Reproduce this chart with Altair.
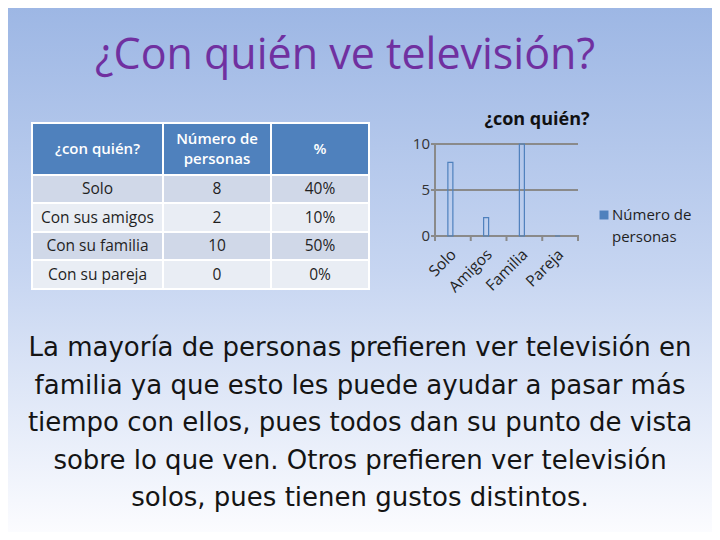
import altair as alt
import pandas as pd

# ---- data ----
row_labels = ["Solo", "Con sus amigos", "Con su familia", "Con su pareja"]
counts = [8, 2, 10, 0]
percents = ["40%", "10%", "50%", "0%"]
header_lines = [["¿con quién?"], ["Número de", "personas"], ["%"]]
chart_cats = ["Solo", "Amigos", "Familia", "Pareja"]
y_ticks = [0, 5, 10]
series_name = ["Número de", "personas"]
paragraph = [
    "La mayoría de personas prefieren ver televisión en",
    "familia ya que esto les puede ayudar a pasar más",
    "tiempo con ellos, pues todos dan su punto de vista",
    "sobre lo que ven. Otros prefieren ver televisión",
    "solos, pues tienen gustos distintos.",
]

# ---- layout ----
W, H = 704, 524
FONT = "Open Sans"
col_edges = [24, 155, 263, 361]
row_edges = [115, 167, 195, 224, 252, 281]
BLUE = "#4f81bd"
GRID = "#8a8a8a"

xcol = alt.Scale(domain=[0, 1, 2, 3], range=col_edges)
yrow = alt.Scale(domain=[0, 1, 2, 3, 4, 5], range=row_edges)

bg = alt.Chart(pd.DataFrame({"a": [0]})).mark_rect(
    color={"gradient": "linear", "x1": 0, "y1": 0, "x2": 0, "y2": 1,
           "stops": [{"offset": 0, "color": "#9cb6e4"},
                     {"offset": 0.5, "color": "#c6d5f1"},
                     {"offset": 1, "color": "#fdfdff"}]}
).encode(x=alt.value(-8), x2=alt.value(W + 8), y=alt.value(-8), y2=alt.value(H + 8))

# table cells
cells = []
for c in range(3):
    cells.append({"c": c, "c2": c + 1, "r": 0, "r2": 1, "fill": "h"})
for i in range(len(row_labels)):
    for c in range(3):
        cells.append({"c": c, "c2": c + 1, "r": i + 1, "r2": i + 2,
                      "fill": "d" if i % 2 == 0 else "l"})
cells_df = pd.DataFrame(cells)
cell_layer = alt.Chart(cells_df).mark_rect(stroke="white", strokeWidth=2).encode(
    x=alt.X("c:Q", scale=xcol, axis=None),
    x2="c2:Q",
    y=alt.Y("r:Q", scale=yrow, axis=None),
    y2="r2:Q",
    fill=alt.Fill("fill:N", scale=alt.Scale(domain=["h", "d", "l"],
                                            range=[BLUE, "#d0d8e8", "#e9edf4"]), legend=None),
)

head = []
for c, lines in enumerate(header_lines):
    n = len(lines)
    for k, t in enumerate(lines):
        rm = 0.5 + (k - (n - 1) / 2) * 0.38
        head.append({"cm": c + 0.5, "rm": rm, "t": t})
head_layer = alt.Chart(pd.DataFrame(head)).mark_text(
    font=FONT, fontSize=15, color="white", fontWeight=600, baseline="middle"
).encode(
    x=alt.X("cm:Q", scale=xcol, axis=None),
    y=alt.Y("rm:Q", scale=yrow, axis=None),
    text="t:N",
)

body = []
for i, (lab, n, p) in enumerate(zip(row_labels, counts, percents)):
    for c, t in enumerate([lab, str(n), p]):
        body.append({"cm": c + 0.5, "rm": i + 1.5, "t": t})
body_layer = alt.Chart(pd.DataFrame(body)).mark_text(
    font=FONT, fontSize=15.5, color="#1f1f1f", baseline="middle"
).encode(
    x=alt.X("cm:Q", scale=xcol, axis=None),
    y=alt.Y("rm:Q", scale=yrow, axis=None),
    text="t:N",
)

# ---- bar chart ----
bx = alt.Scale(domain=chart_cats, range=[427, 570], paddingInner=0, paddingOuter=0)
by = alt.Scale(domain=[0, 10], range=[228, 136])
bar_df = pd.DataFrame({"cat": chart_cats, "n": counts})

grid_df = pd.DataFrame({"v": [5, 10]})
grid = alt.Chart(grid_df).mark_rule(color=GRID, strokeWidth=2).encode(
    y=alt.Y("v:Q", scale=by, axis=None), x=alt.value(427), x2=alt.value(570))

yaxis = alt.Chart(pd.DataFrame({"a": [0], "b": [10]})).mark_rule(color=GRID, strokeWidth=2).encode(
    y=alt.Y("a:Q", scale=by, axis=None), y2="b:Q", x=alt.value(427))
xaxis = alt.Chart(pd.DataFrame({"v": [0]})).mark_rule(color=GRID, strokeWidth=2).encode(
    y=alt.Y("v:Q", scale=by, axis=None), x=alt.value(425), x2=alt.value(571))

ytick_df = pd.DataFrame({"v": y_ticks, "t": [str(v) for v in y_ticks]})
yticks = alt.Chart(ytick_df).mark_rule(color=GRID, strokeWidth=2).encode(
    y=alt.Y("v:Q", scale=by, axis=None), x=alt.value(423), x2=alt.value(427))
ylabels = alt.Chart(ytick_df).mark_text(
    font=FONT, fontSize=15, color="#333333", align="right", baseline="middle", dx=-5
).encode(y=alt.Y("v:Q", scale=by, axis=None), x=alt.value(427), text="t:N")

xb_df = pd.DataFrame({"k": list(range(len(chart_cats) + 1))})
xticks = alt.Chart(xb_df).mark_rule(color=GRID, strokeWidth=2).encode(
    x=alt.X("k:Q", scale=alt.Scale(domain=[0, 4], range=[427, 570]), axis=None),
    y=alt.value(228), y2=alt.value(233))

xlabels = alt.Chart(bar_df).mark_text(
    font=FONT, fontSize=15.5, color="#1f1f1f", angle=315, align="right", baseline="middle",
    dx=0.5, dy=0.5
).encode(x=alt.X("cat:N", scale=bx, axis=None, sort=chart_cats), y=alt.value(244), text="cat:N")

bars = alt.Chart(bar_df).mark_bar(
    width=5, xOffset=-2.5, fill=None, stroke=BLUE, strokeWidth=1.2
).encode(
    x=alt.X("cat:N", scale=bx, axis=None, sort=chart_cats),
    y=alt.Y("n:Q", scale=by, axis=None),
    y2=alt.datum(0),
)

ctitle = alt.Chart(pd.DataFrame({"t": ["¿con quién?"]})).mark_text(
    font=FONT, fontSize=18, fontWeight="bold", color="#111111", baseline="middle"
).encode(x=alt.value(529), y=alt.value(112), text="t:N")

legend_sq = alt.Chart(pd.DataFrame({"s": ["Número de personas"]})).mark_square(
    size=80, color=BLUE, opacity=1).encode(x=alt.value(596), y=alt.value(207))
legend_tx = alt.Chart(pd.DataFrame({"t": [series_name]})).mark_text(
    font=FONT, fontSize=15, color="#1f1f1f", align="left", baseline="middle", lineHeight=22
).encode(x=alt.value(604), y=alt.value(207), text="t")

# ---- paragraph ----
para_df = pd.DataFrame({"i": list(range(len(paragraph))), "t": paragraph})
para = alt.Chart(para_df).mark_text(
    font="DejaVu Sans", fontSize=26, color="#141414", baseline="alphabetic"
).encode(
    y=alt.Y("i:Q", scale=alt.Scale(domain=[0, 4], range=[348, 498]), axis=None),
    x=alt.value(352), text="t:N")

title = alt.Chart(pd.DataFrame({"t": ["¿Con quién ve televisión?"]})).mark_text(
    font=FONT, fontSize=43, color="#7030a0", baseline="middle"
).encode(x=alt.value(337), y=alt.value(48), text="t:N")

chart = alt.layer(
    bg, cell_layer, head_layer, body_layer,
    grid, yaxis, xaxis, yticks, ylabels, xticks, xlabels, bars,
    ctitle, legend_sq, legend_tx, para, title
).resolve_scale(x="independent", y="independent", fill="independent").properties(
    width=W, height=H, padding=0, autosize=alt.AutoSizeParams(type="none")
).configure_view(strokeWidth=0)

chart.save("out.html", embed_options={"renderer": "svg", "actions": False})
